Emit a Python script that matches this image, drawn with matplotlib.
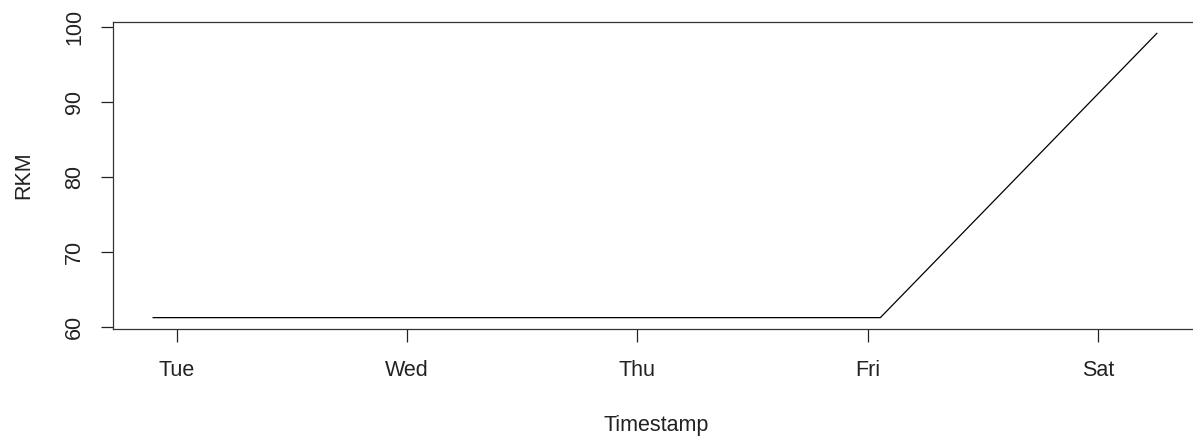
import matplotlib
matplotlib.use("Agg")
import matplotlib.pyplot as plt
import matplotlib.dates as mdates
import pandas as pd

# RKM readings over the week
timestamps = pd.to_datetime([
    "2024-01-01 21:30",
    "2024-01-05 01:20",
    "2024-01-06 06:10",
])
rkm = [61.3, 61.3, 99.1]

plt.rcParams["font.family"] = ["Liberation Sans", "DejaVu Sans"]

fig = plt.figure(figsize=(11.93, 4.38), dpi=100)
ax = fig.add_axes([113 / 1193, 109 / 438, 1084 / 1193, 307 / 438])

ax.plot(timestamps, rkm, color="black", lw=0.9)

# R-style 4% padding on both axes
tnum = mdates.date2num(timestamps)
span = tnum.max() - tnum.min()
ax.set_xlim(tnum.min() - 0.04 * span, tnum.max() + 0.04 * span)
yr = max(rkm) - min(rkm)
ax.set_ylim(min(rkm) - 0.04 * yr, max(rkm) + 0.04 * yr)

ax.xaxis.set_major_locator(mdates.DayLocator())
ax.xaxis.set_major_formatter(mdates.DateFormatter("%a"))
ax.set_yticks([60, 70, 80, 90, 100])
for lbl in ax.get_yticklabels():
    lbl.set_rotation(90)
    lbl.set_va("center")

fs = 15.5
ax.tick_params(axis="x", length=9, width=0.9, pad=13.5, labelsize=fs, colors="#222222")
ax.tick_params(axis="y", length=9, width=0.9, pad=11, labelsize=fs, colors="#222222")
for s in ax.spines.values():
    s.set_color("#333333")
    s.set_linewidth(0.9)

ax.set_xlabel("Timestamp", fontsize=fs, color="#222222")
ax.set_ylabel("RKM", fontsize=fs, color="#222222")
ax.xaxis.set_label_coords(0.501, -0.315)
ax.xaxis.label.set_va("center")
ax.yaxis.set_label_coords(-0.082, 0.5)
ax.yaxis.label.set_va("center")

fig.savefig("out.png", dpi=100, facecolor="white")
